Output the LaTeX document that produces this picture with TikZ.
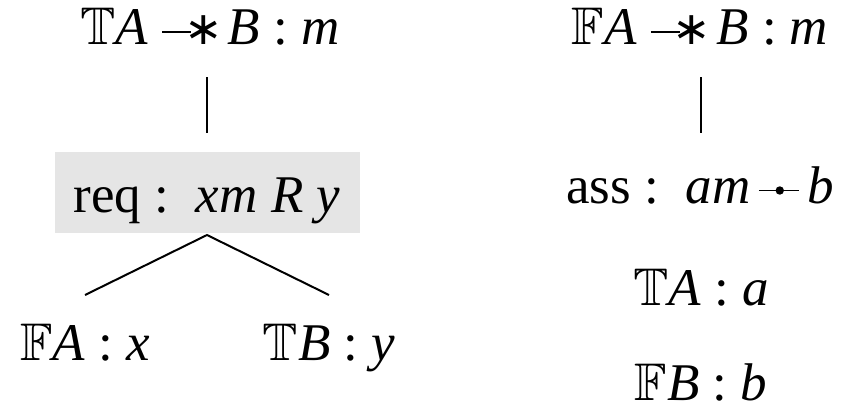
\documentclass[tikz,border=0pt]{standalone}
\usepackage{amssymb}
\usepackage{fontspec}
\setmainfont{Liberation Serif}
\newfontfamily\symf{DejaVu Sans}
\newcommand\bigf{\fontsize{53}{64}\selectfont}
\newcommand\Tb{$\mathbb{T}$}
\newcommand\Fb{$\mathbb{F}$}
\newcommand\wandsym{\kern0.1em\rule[0.235em]{0.55em}{0.035em}\kern-0.14em{\symf\fontsize{46}{50}\selectfont\raisebox{0.02em}{∗}}\kern0.1em}
\newcommand\dotline{\kern0.14em\tikz[baseline=0pt,x=1pt,y=1pt]{\draw[line width=1.9pt] (0,12.5)--(40,12.5); \fill (21,12.5) circle (4.2);}\kern0.14em}
\tikzset{lbl/.style={font=\bigf, inner sep=0pt, anchor=base},
  conn/.style={line width=2pt, black}}
\begin{document}
\begin{tikzpicture}[x=1pt,y=-1pt]
\useasboundingbox (0,0) rectangle (848,412);
\fill[gray!20] (55,152) rectangle (360,233);
\node[lbl] (t1) at (210,45) {\Tb\textit{A}\,\wandsym\textit{B} : \textit{m}};
\node[lbl] (req) at (207,212) {req :\, \textit{xm R y}};
\node[lbl] (fa) at (85,360) {\Fb\textit{A} : \textit{x}};
\node[lbl] (tb) at (329,360) {\Tb\textit{B} : \textit{y}};
\node[lbl] (t2) at (700,45) {\Fb\textit{A}\,\wandsym\textit{B} : \textit{m}};
\node[lbl] (ass) at (700,203) {ass :\, \textit{am}\dotline\textit{b}};
\node[lbl] (ta) at (701,305) {\Tb\textit{A} : \textit{a}};
\node[lbl] (fbb) at (701,400) {\Fb\textit{B} : \textit{b}};
\coordinate (l1a) at (207,77);
\coordinate (l1b) at (207,133);
\coordinate (l2a) at (701,77);
\coordinate (l2b) at (701,133);
\coordinate (apex) at (207,235);
\coordinate (lf) at (85,295);
\coordinate (rt) at (329,295);
\draw[conn] (l1a) -- (l1b);
\draw[conn] (l2a) -- (l2b);
\draw[conn] (lf) -- (apex) -- (rt);
\end{tikzpicture}
\end{document}
